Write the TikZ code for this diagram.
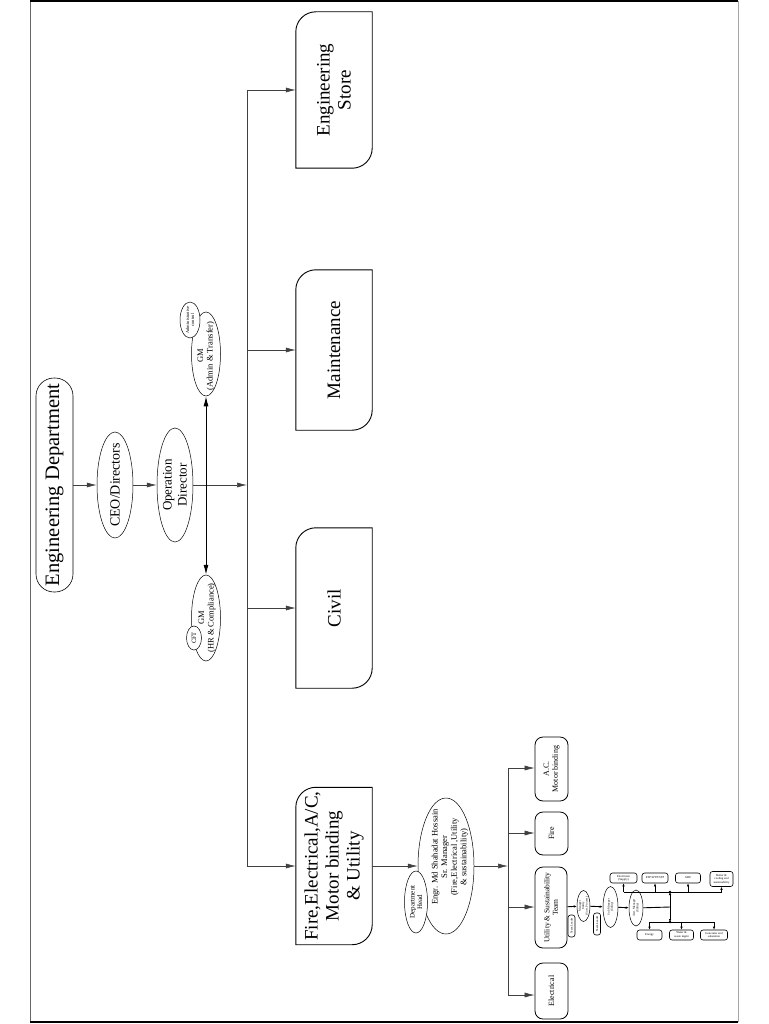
\documentclass[tikz,border=0pt]{standalone}
\usepackage{fontspec}
\setmainfont{Liberation Serif}
\usetikzlibrary{shapes.geometric,arrows.meta}
\newcommand\orgbox[4]{%
  \node[shp, minimum width=76pt, minimum height=#3pt] (#1) at (334,#2) {};
  \draw[line width=0.9pt] (#1.west) [rounded corners=20pt] -- (#1.north west) -- (#1.north) [sharp corners] -- (#1.north east) -- (#1.east) [rounded corners=20pt] -- (#1.south east) -- (#1.south) [sharp corners] -- (#1.south west) -- cycle;
  \node[txt, font=\fontsize{19}{21}\selectfont] (#1-t) at (#1) {#4};
}
\begin{document}
\begin{tikzpicture}[x=1pt,y=-1pt,
  ln/.style={line width=0.6pt, draw=black!75},
  arr/.style={ln,-{Latex[length=10pt,width=5pt]}},
  darr/.style={line width=1pt,-{Latex[length=10pt,width=5pt]}},
  tln/.style={line width=0.9pt},
  tarr/.style={line width=0.9pt,-{Latex[length=3pt,width=2.5pt]}},
  ell/.style={ellipse, draw, line width=0.5pt, inner sep=0pt},
  shp/.style={draw=none, inner sep=0pt, rectangle},
  txt/.style={rotate=90, align=center, inner sep=0pt},
  sbox/.style={draw, rounded corners=8pt, line width=0.8pt, inner sep=0pt},
  tbox/.style={draw, rounded corners=2.5pt, line width=0.6pt, inner sep=0pt},
  tiny/.style={font=\fontsize{3}{3.4}\selectfont, align=center, inner sep=0pt},
]
\useasboundingbox (0,0) rectangle (768,1024);
\fill[white] (0,0) rectangle (768,1024);
% frame
\draw[line width=0.8pt, black!60] (30,1) -- (30,1022);
\draw[line width=0.6pt, black!35] (738,1) -- (738,1022);
\draw[line width=1.6pt] (30,1) -- (738,1);
\draw[line width=1.6pt] (30,1022) -- (738,1022);

% top chain
\node[draw, rounded corners=18pt, minimum width=37pt, minimum height=214pt, inner sep=0pt, line width=0.6pt] (ed) at (54.5,485) {};
\node[txt, font=\fontsize{20.5}{24}\selectfont] (ed-t) at (ed) {Engineering Department};
\node[ell, minimum width=36pt, minimum height=106pt] (ceo) at (115,485) {};
\node[txt, font=\fontsize{14}{16}\selectfont] (ceo-t) at (ceo) {CEO/Directors};
\node[ell, minimum width=36pt, minimum height=114pt] (od) at (175,485) {};
\node[txt, font=\fontsize{13}{15}\selectfont] (od-t) at (od) {Operation\\Director};
\draw[arr] (ed) -- (ceo);
\draw[arr] (ceo) -- (od);

\coordinate (j) at (206,485);
\coordinate (bj) at (247,485);
\draw[arr] (od) -- (bj);

% GM nodes
\node[ell, minimum width=29pt, minimum height=84pt] (gma) at (206,354) {};
\node[txt, font=\fontsize{8.5}{9.5}\selectfont] (gma-t) at (206,356) {GM\\(Admin \& Transfer)};
\node[ell, fill=white, minimum width=20pt, minimum height=36pt] (adm) at (190,320) {};
\node[txt, font=\fontsize{4.5}{5}\selectfont] (adm-t) at (adm) {Administrative\\control};
\node[ell, minimum width=29pt, minimum height=86pt] (gmh) at (206,618) {};
\node[txt, font=\fontsize{8.5}{9.5}\selectfont] (gmh-t) at (207,618) {GM\\(HR \& Compliance)};
\node[ell, fill=white, minimum width=15pt, minimum height=24pt] (cft) at (194,638) {};
\node[txt, font=\fontsize{6.5}{7}\selectfont] (cft-t) at (cft) {CFT};
\draw[darr] (j) -- (j |- gma.south);
\draw[darr] (j) -- (j |- gmh.north);

% main bus
\coordinate (bt) at (247,90);
\coordinate (b2) at (247,350);
\coordinate (b3) at (247,608);
\coordinate (bb) at (247,866);
\draw[ln] (bt) -- (bb);
\orgbox{store}{90}{156}{Engineering\\Store}
\orgbox{maint}{350}{160}{Maintenance}
\orgbox{civil}{608}{160}{Civil}
\orgbox{fire}{866}{157}{Fire,Electrical,A/C,\\Motor binding\\\& Utility}
\draw[arr] (bt) -- (bt -| store.west);
\draw[arr] (b2) -- (b2 -| maint.west);
\draw[arr] (b3) -- (b3 -| civil.west);
\draw[arr] (bb) -- (bb -| fire.west);

% department head
\node[ell, minimum width=56pt, minimum height=136pt] (dh) at (446,866) {};
\node[txt, font=\fontsize{8.5}{9.6}\selectfont] (dh-t) at (450,857) {Engr. Md Shahadat Hossain\\Sr. Manager\\(Fire,Electrical ,Utility\\\& sustainability)};
\node[ell, fill=white, minimum width=23pt, minimum height=62pt] (dhs) at (416,902) {};
\node[txt, font=\fontsize{7}{7.5}\selectfont] (dhs-t) at (dhs) {Department\\Head};
\draw[arr] (fire.east |- dh) -- (dh);

% sub bus
\coordinate (sb) at (508,866);
\coordinate (sbt) at (508,768);
\coordinate (sb1) at (508,833);
\coordinate (sb2) at (508,907);
\coordinate (sbb) at (508,995);
\draw[arr] (dh) -- (sb);
\draw[ln] (sbt) -- (sbb);
\node[sbox, minimum width=33pt, minimum height=64pt] (ac) at (551.5,769) {};
\node[txt, font=\fontsize{8}{9}\selectfont] (ac-t) at (ac) {A.C.\\Motor binding};
\node[sbox, minimum width=33pt, minimum height=43pt] (fi) at (551.5,833.5) {};
\node[txt, font=\fontsize{8}{9}\selectfont] (fi-t) at (fi) {Fire};
\node[sbox, minimum width=32pt, minimum height=81pt] (ut) at (551,907.5) {};
\node[txt, font=\fontsize{7.5}{8.5}\selectfont] (ut-t) at (ut) {Utility \& Sustainability\\Team};
\node[sbox, minimum width=33pt, minimum height=56pt] (el) at (551.5,991) {};
\node[txt, font=\fontsize{8}{9}\selectfont] (el-t) at (el) {Electrical};
\draw[arr] (sbt) -- (sbt -| ac.west);
\draw[arr] (sb1) -- (sb1 -| fi.west);
\draw[arr] (sb2) -- (sb2 -| ut.west);
\draw[arr] (sbb) -- (sbb -| el.west);

% utility subtree
\node[tbox, minimum width=7pt, minimum height=22pt] (tl1) at (571.5,926) {};
\node[txt, font=\fontsize{3}{3.4}\selectfont] (tl1-t) at (tl1) {Team Leader};
\node[ell, minimum width=13pt, minimum height=31pt] (e1) at (583.5,906) {};
\node[txt, font=\fontsize{3}{3.4}\selectfont] (e1-t) at (e1) {Manager\\Utility\\(Sust. Process)};
\node[tbox, minimum width=7pt, minimum height=22pt] (tl2) at (597,924) {};
\node[txt, font=\fontsize{3}{3.4}\selectfont] (tl2-t) at (tl2) {Team Leader};
\node[ell, minimum width=15pt, minimum height=41pt] (e2) at (610.5,907) {};
\node[txt, font=\fontsize{3}{3.4}\selectfont] (e2-t) at (e2) {Sub Manager\\(Utility)};
\node[ell, minimum width=14pt, minimum height=36pt] (e3) at (636,908) {};
\node[txt, font=\fontsize{3}{3.4}\selectfont] (e3-t) at (e3) {Asst. Manager\\(Utility)};
\draw[tarr] (ut) -- (e1);
\draw[tarr] (e1) -- (e2);
\draw[tarr] (e2) -- (e3);
\coordinate (hc) at (670,907);
\coordinate (ht) at (670,892);
\coordinate (hb) at (670,922);
\draw[tln] (e3) -- (hc);
\draw[tarr] (hc) -- (ht);
\draw[tarr] (hc) -- (hb);

\node[tbox, minimum width=27pt, minimum height=10pt] (t1) at (623.5,878) {};
\node[tiny] (t1-t) at (t1) {Electrician\\(Supply)};
\node[tbox, minimum width=26pt, minimum height=10pt] (t2) at (655,878) {};
\node[tiny] (t2-t) at (t2) {ETP/WTP/STP};
\node[tbox, minimum width=25pt, minimum height=10pt] (t3) at (688,878) {};
\node[tiny] (t3-t) at (t3) {AHU};
\node[tbox, minimum width=23pt, minimum height=15pt] (t4) at (721.5,879) {};
\node[tiny] (t4-t) at (t4) {Boiler \&\\cooling and\\sustainability};
\draw[tln] (t1.south |- ht) -- (t4.south |- ht);
\draw[tarr] (t1.south |- ht) -- (t1.south);
\draw[tarr] (t2.south |- ht) -- (t2.south);
\draw[tarr] (t3.south |- ht) -- (t3.south);
\draw[tarr] (t4.south |- ht) -- (t4.south);

\node[tbox, minimum width=25pt, minimum height=10pt] (u1) at (649.5,935) {};
\node[tiny] (u1-t) at (u1) {Energy};
\node[tbox, minimum width=24pt, minimum height=10pt] (u2) at (681.5,935) {};
\node[tiny] (u2-t) at (u2) {Water \&\\waste mgmt};
\node[tbox, minimum width=27pt, minimum height=10pt] (u3) at (714,935) {};
\node[tiny] (u3-t) at (u3) {Generator and\\substation};
\draw[tln] (u1.north |- hb) -- (u3.north |- hb);
\draw[tarr] (u1.north |- hb) -- (u1.north);
\draw[tarr] (u2.north |- hb) -- (u2.north);
\draw[tarr] (u3.north |- hb) -- (u3.north);
\fill (ht) circle (1.3pt);
\fill (hb) circle (1.3pt);
\end{tikzpicture}
\end{document}
